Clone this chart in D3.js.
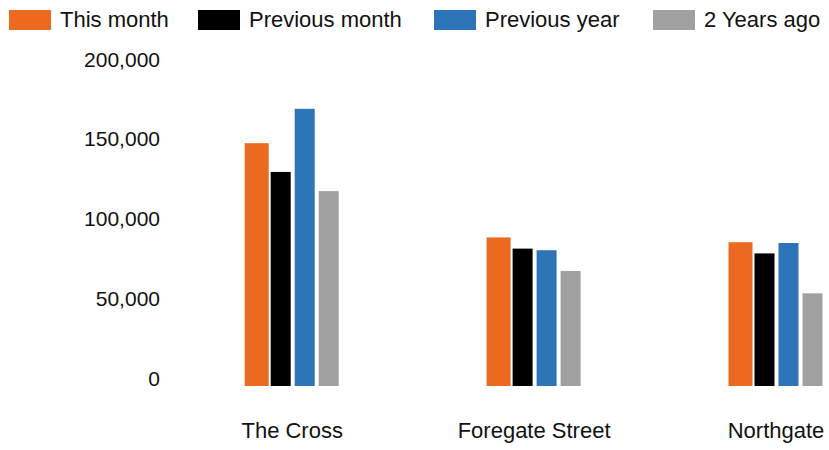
<!DOCTYPE html>
<html>
<head>
<meta charset="utf-8">
<script src="https://cdn.jsdelivr.net/npm/d3@7"></script>
<style>
  body { margin: 0; background: #fff; }
  text { font-family: "Liberation Sans", Arial, sans-serif; font-size: 22px; fill: #111; }
  text.tick { font-size: 21px; }
</style>
</head>
<body>
<div id="chart"></div>
<script>
// data
var categories = ["The Cross", "Foregate Street", "Northgate"];
var seriesNames = ["This month", "Previous month", "Previous year", "2 Years ago"];
var thisMonth = [152000, 93000, 90000];
var previousMonth = [134000, 86000, 83000];
var previousYear = [173500, 85000, 89500];
var twoYearsAgo = [122000, 72000, 58000];
var yTicks = [0, 50000, 100000, 150000, 200000];

var seriesValues = [thisMonth, previousMonth, previousYear, twoYearsAgo];
var colors = ["#EC6A1F", "#000000", "#2E74B8", "#A0A0A0"];

var width = 829, height = 450;

var svg = d3.select("#chart")
	.append("svg")
	.attr("width", width)
	.attr("height", height);

var y = d3.scaleLinear()
	.domain([0, 200000])
	.range([386, 66.5]);

var x = d3.scalePoint()
	.domain(categories)
	.range([292.2, 776]);

var xSub = d3.scaleBand()
	.domain(seriesNames)
	.range([-47.5, 48.5]);

// y axis labels (baseline sits on the tick)
var fmt = d3.format(",");
svg.append("g")
	.selectAll("text")
	.data(yTicks)
	.enter().append("text")
	.attr("class", "tick")
	.attr("x", 160)
	.attr("y", function(d) { return y(d); })
	.attr("text-anchor", "end")
	.text(function(d) { return fmt(d); });

// bars
var rows = [];
categories.forEach(function(c, i) {
	seriesNames.forEach(function(s, j) {
		rows.push({ cat: c, series: s, idx: j, value: seriesValues[j][i] });
	});
});

svg.append("g")
	.selectAll("rect")
	.data(rows)
	.enter().append("rect")
	.attr("x", function(d) {
		var w = d.idx == 0 ? 24 : 20;
		return x(d.cat) + xSub(d.series) + (xSub.bandwidth() - w) / 2;
	})
	.attr("width", function(d) { return d.idx == 0 ? 24 : 20; })
	.attr("y", function(d) { return y(d.value); })
	.attr("height", function(d) { return y(0) - y(d.value); })
	.style("fill", function(d) { return colors[d.idx]; });

// category labels
svg.append("g")
	.selectAll("text")
	.data(categories)
	.enter().append("text")
	.attr("x", function(d) { return x(d); })
	.attr("y", 438)
	.attr("text-anchor", "middle")
	.text(function(d) { return d; });

// legend
var legendX = [9, 198, 434, 653];
var legend = svg.append("g")
	.selectAll("g")
	.data(seriesNames)
	.enter().append("g")
	.attr("transform", function(d, i) { return "translate(" + legendX[i] + ",10)"; });

legend.append("rect")
	.attr("width", 42)
	.attr("height", 20)
	.style("fill", function(d, i) { return colors[i]; });

legend.append("text")
	.attr("x", 51)
	.attr("y", 17)
	.text(function(d) { return d; });
</script>
</body>
</html>
